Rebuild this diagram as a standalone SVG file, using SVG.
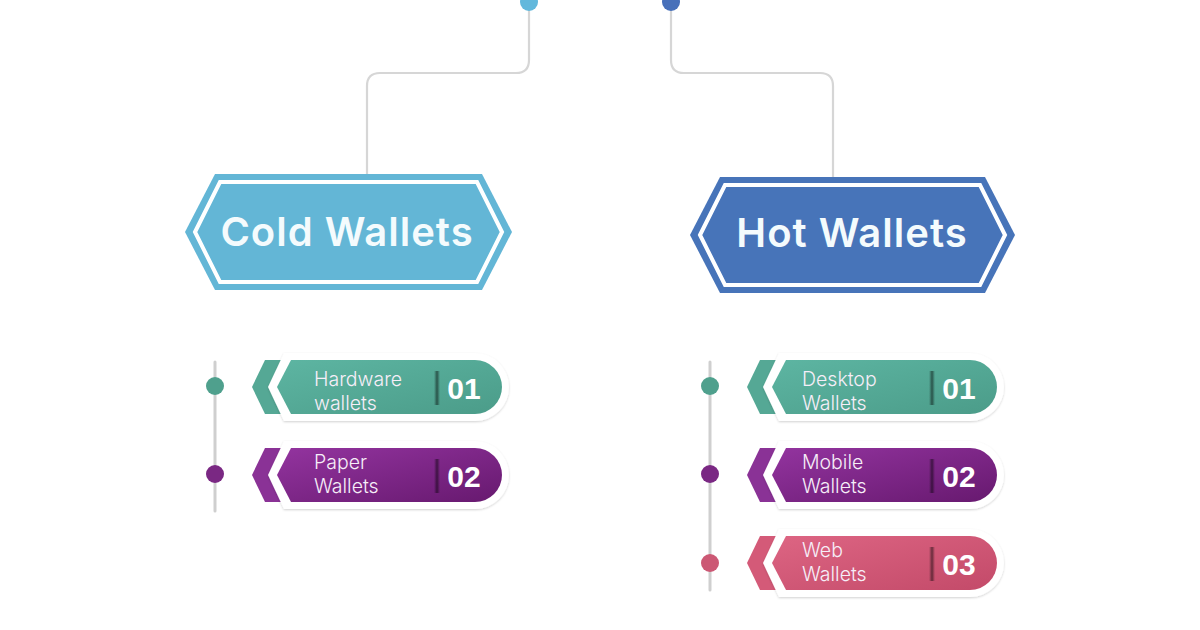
<svg xmlns="http://www.w3.org/2000/svg" width="1200" height="630" viewBox="0 0 1200 630">
<defs>
<linearGradient id="gTeal" x1="0" y1="0" x2="1" y2="1"><stop offset="0" stop-color="#5db5a2"/><stop offset="1" stop-color="#4b9c89"/></linearGradient>
<linearGradient id="gPurple" x1="0" y1="0" x2="1" y2="1"><stop offset="0" stop-color="#93349f"/><stop offset="1" stop-color="#67196f"/></linearGradient>
<linearGradient id="gPink" x1="0" y1="0" x2="1" y2="1"><stop offset="0" stop-color="#dd6583"/><stop offset="1" stop-color="#c34a69"/></linearGradient>
<linearGradient id="gDiv" x1="0" y1="0" x2="1" y2="0"><stop offset="0" stop-color="#000" stop-opacity="0"/><stop offset="0.5" stop-color="#000" stop-opacity="0.5"/><stop offset="1" stop-color="#000" stop-opacity="0"/></linearGradient>
<filter id="sh" x="-10%" y="-20%" width="120%" height="140%"><feDropShadow dx="0" dy="1" stdDeviation="1.2" flood-color="#000" flood-opacity="0.18"/></filter>
<path id="outline" d="M268 0 L284 -34 H475 A34 34 0 0 1 475 34 H284 Z"/>
<path id="body" d="M277 0 L291 -27 H475 A27 27 0 0 1 475 27 H291 Z"/>
<path id="tab" d="M252 0 L265 -27 H295 V27 H265 Z"/>
</defs>
<style>
.conn{fill:none;stroke:#d6d6d6;stroke-width:2.2}
.rail{stroke:#cfcfcf;stroke-width:3;stroke-linecap:round}
.head{font-family:"Inter","DejaVu Sans",sans-serif;font-weight:600;font-size:40px;letter-spacing:1px;fill:#f4fbfd;text-anchor:middle}
.lbl{font-family:"Inter","Liberation Sans",sans-serif;font-weight:300;font-size:19.5px;fill:#f6eef8}
.num{font-family:"Liberation Sans",Arial,sans-serif;font-weight:700;font-size:30px;fill:#ffffff;text-anchor:middle}
.inner{fill:none;stroke:#ffffff;stroke-width:4}
</style>
<rect width="1200" height="630" fill="#ffffff"/>

<g id="connectors">
<path class="conn" d="M529 8 V60 Q529 73 516 73 H380 Q367 73 367 86 V176"/>
<path class="conn" d="M671 8 V60 Q671 73 684 73 H820 Q833 73 833 86 V179"/>
<circle cx="529" cy="2" r="9" fill="#62b8dc"/>
<circle cx="671" cy="2" r="9" fill="#4770ba"/>
<line class="rail" x1="215" y1="362" x2="215" y2="511"/>
<line class="rail" x1="710" y1="362" x2="710" y2="590"/>
</g>

<g id="cold">
<polygon points="185,232 215,174 482,174 512,232 482,290 215,290" fill="#63b6d6"/>
<polygon class="inner" points="195,232 220,182 477,182 502,232 477,282 220,282"/>
<text class="head" x="347" y="246">Cold Wallets</text>
</g>

<g id="hot">
<polygon points="690,235 720,177 985,177 1015,235 985,293 720,293" fill="#4774b9"/>
<polygon class="inner" points="700,235 725,185 980,185 1005,235 980,285 725,285"/>
<text class="head" x="852" y="247">Hot Wallets</text>
</g>

<g id="cold-hardware">
<circle cx="215" cy="386" r="9" fill="#4fa08d"/>
<g transform="translate(0,387)">
<use href="#tab" fill="#55a895"/>
<use href="#outline" fill="#ffffff" filter="url(#sh)"/>
<use href="#body" fill="url(#gTeal)"/>
<rect x="434" y="-16" width="6" height="34" fill="url(#gDiv)"/>
</g>
<text class="lbl" x="314" y="386">Hardware</text>
<text class="lbl" x="314" y="410">wallets</text>
<text class="num" x="464" y="399">01</text>
</g>

<g id="cold-paper">
<circle cx="215" cy="474" r="9" fill="#7a2883"/>
<g transform="translate(0,475)">
<use href="#tab" fill="#8a3296"/>
<use href="#outline" fill="#ffffff" filter="url(#sh)"/>
<use href="#body" fill="url(#gPurple)"/>
<rect x="434" y="-16" width="6" height="34" fill="url(#gDiv)"/>
</g>
<text class="lbl" x="314" y="469">Paper</text>
<text class="lbl" x="314" y="493">Wallets</text>
<text class="num" x="464" y="487">02</text>
</g>

<g id="hot-desktop">
<circle cx="710" cy="386" r="9" fill="#4fa08d"/>
<g transform="translate(495,387)">
<use href="#tab" fill="#55a895"/>
<use href="#outline" fill="#ffffff" filter="url(#sh)"/>
<use href="#body" fill="url(#gTeal)"/>
<rect x="434" y="-16" width="6" height="34" fill="url(#gDiv)"/>
</g>
<text class="lbl" x="802" y="386">Desktop</text>
<text class="lbl" x="802" y="410">Wallets</text>
<text class="num" x="959" y="399">01</text>
</g>

<g id="hot-mobile">
<circle cx="710" cy="474" r="9" fill="#7a2883"/>
<g transform="translate(495,475)">
<use href="#tab" fill="#8a3296"/>
<use href="#outline" fill="#ffffff" filter="url(#sh)"/>
<use href="#body" fill="url(#gPurple)"/>
<rect x="434" y="-16" width="6" height="34" fill="url(#gDiv)"/>
</g>
<text class="lbl" x="802" y="469">Mobile</text>
<text class="lbl" x="802" y="493">Wallets</text>
<text class="num" x="959" y="487">02</text>
</g>

<g id="hot-web">
<circle cx="710" cy="563" r="9" fill="#cc5874"/>
<g transform="translate(495,563)">
<use href="#tab" fill="#d45a78"/>
<use href="#outline" fill="#ffffff" filter="url(#sh)"/>
<use href="#body" fill="url(#gPink)"/>
<rect x="434" y="-16" width="6" height="34" fill="url(#gDiv)"/>
</g>
<text class="lbl" x="802" y="557">Web</text>
<text class="lbl" x="802" y="581">Wallets</text>
<text class="num" x="959" y="575">03</text>
</g>
</svg>
